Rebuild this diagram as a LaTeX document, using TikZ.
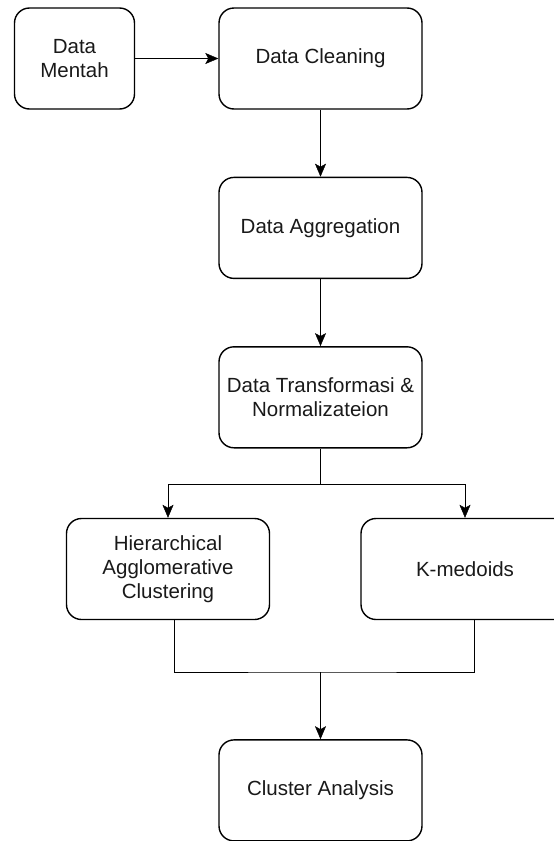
\documentclass[tikz,border=0pt]{standalone}
\usepackage{fontspec}
\setmainfont{Liberation Sans}
\usetikzlibrary{positioning,arrows.meta}
\tikzset{
  box/.style={
    draw,
    rounded corners=15pt,
    line width=1.4pt,
    minimum width=203pt,
    minimum height=101pt,
    align=center,
    text=black!90,
    font=\fontsize{20.5}{24}\selectfont
  },
  arr/.style={-{Stealth[length=13pt,width=11pt,inset=3pt]}},
  line width=1.4pt
}

\begin{document}
\begin{tikzpicture}[x=1pt,y=1pt]
  \useasboundingbox (0,0) rectangle (554,-841);
  \node[box] (clean) at (320.5,-58.5) {Data Cleaning};
  \node[box, minimum width=120pt] (raw) at (74.5,-58.5) {Data\\Mentah};
  \node[box, below=67pt of clean] (agg) {Data Aggregation};
  \node[box, below=67pt of agg] (trans) {Data Transformasi \&\\Normalizateion};
  \node[box] (hac) at (168,-569) {Hierarchical\\Agglomerative\\Clustering};
  \node[box, minimum width=208pt] (kmed) at (465,-569) {K-medoids};
  \node[box, below=119pt of trans.south |- hac.south] (clus) {Cluster Analysis};

  \coordinate (split) at (trans.south |- 0,-484);
  \coordinate (join) at (trans.south |- 0,-672);

  \draw[arr] (raw) -- (clean);
  \draw[arr] (clean) -- (agg);
  \draw[arr] (agg) -- (trans);
  \draw (trans) -- (split);
  \draw[arr] (split) -| (hac);
  \draw[arr] (split) -| (kmed);
  \draw ([xshift=6pt]hac.south) |- (join) -| ([xshift=9pt]kmed.south);
  \draw[arr] (join) -- (clus);
\end{tikzpicture}
\end{document}
